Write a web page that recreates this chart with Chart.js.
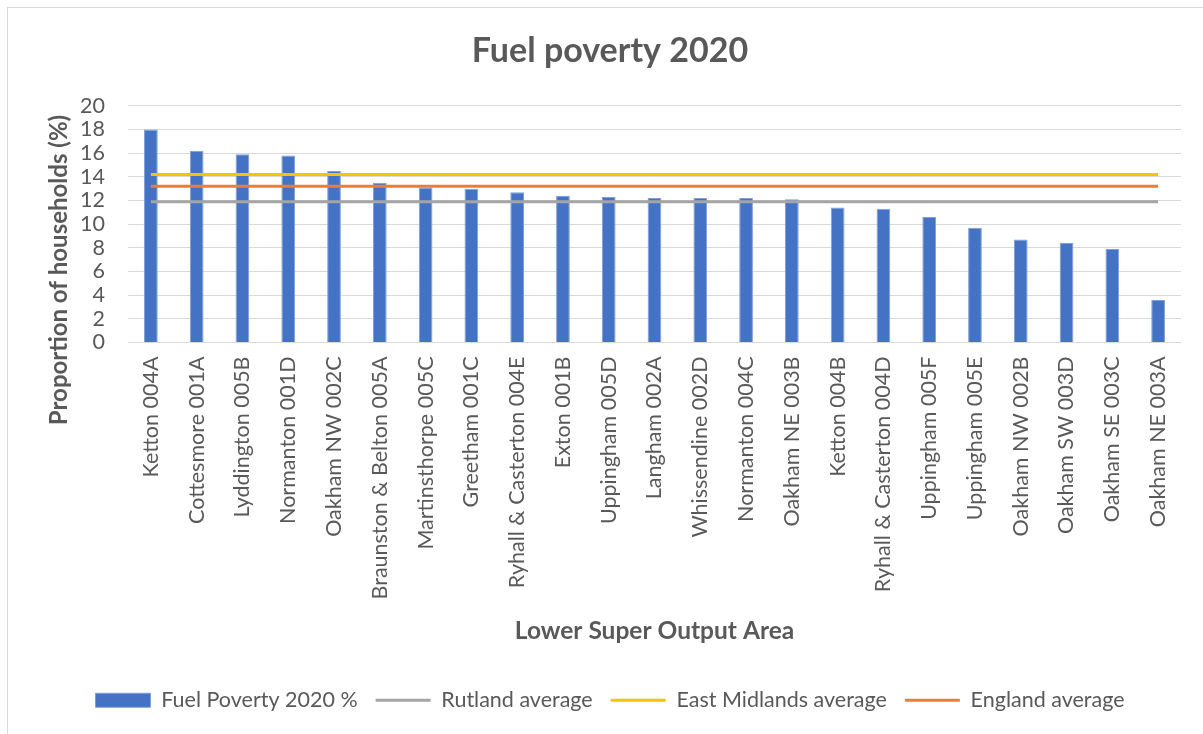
<!DOCTYPE html>
<html>
<head>
<meta charset="utf-8">
<script src="https://cdn.jsdelivr.net/npm/chart.js@4.4.1/dist/chart.umd.min.js"></script>
<style>
  html, body { margin: 0; padding: 0; background: #ffffff; }
  #frame { position: absolute; left: 7px; top: 7px; width: 1300px; height: 900px; border: 1px solid #d9d9d9; box-sizing: border-box; }
  #wrap { position: absolute; left: 0; top: 0; width: 1203px; height: 734px; }
</style>
</head>
<body>
<div id="frame"></div>
<div id="wrap"><canvas id="c" width="1203" height="734"></canvas></div>
<script>
const categories = [
  'Ketton 004A', 'Cottesmore 001A', 'Lyddington 005B', 'Normanton 001D', 'Oakham NW 002C',
  'Braunston & Belton 005A', 'Martinsthorpe 005C', 'Greetham 001C', 'Ryhall & Casterton 004E',
  'Exton 001B', 'Uppingham 005D', 'Langham 002A', 'Whissendine 002D', 'Normanton 004C',
  'Oakham NE 003B', 'Ketton 004B', 'Ryhall & Casterton 004D', 'Uppingham 005F', 'Uppingham 005E',
  'Oakham NW 002B', 'Oakham SW 003D', 'Oakham SE 003C', 'Oakham NE 003A'
];
const fuelPoverty2020 = [18.0, 16.2, 15.9, 15.8, 14.5, 13.5, 13.1, 13.0, 12.7, 12.4, 12.3, 12.2, 12.2, 12.2, 12.1, 11.4, 11.3, 10.6, 9.7, 8.7, 8.4, 7.9, 3.6];
const rutlandAverage = [11.9, 11.9, 11.9, 11.9, 11.9, 11.9, 11.9, 11.9, 11.9, 11.9, 11.9, 11.9, 11.9, 11.9, 11.9, 11.9, 11.9, 11.9, 11.9, 11.9, 11.9, 11.9, 11.9];
const eastMidlandsAverage = [14.2, 14.2, 14.2, 14.2, 14.2, 14.2, 14.2, 14.2, 14.2, 14.2, 14.2, 14.2, 14.2, 14.2, 14.2, 14.2, 14.2, 14.2, 14.2, 14.2, 14.2, 14.2, 14.2];
const englandAverage = [13.2, 13.2, 13.2, 13.2, 13.2, 13.2, 13.2, 13.2, 13.2, 13.2, 13.2, 13.2, 13.2, 13.2, 13.2, 13.2, 13.2, 13.2, 13.2, 13.2, 13.2, 13.2, 13.2];
const yTicks = [0, 2, 4, 6, 8, 10, 12, 14, 16, 18, 20];
const yAxisTitle = 'Proportion of households (%)';

const FONT = 'Lato';
const TEXT = '#595959';

const yTitlePlugin = {
  id: 'yTitle',
  afterDraw(chart) {
    const ctx = chart.ctx;
    ctx.save();
    ctx.translate(59, 270);
    ctx.rotate(-Math.PI / 2);
    ctx.font = 'bold 24px ' + FONT;
    ctx.fillStyle = TEXT;
    ctx.textAlign = 'center';
    ctx.textBaseline = 'middle';
    ctx.fillText(yAxisTitle, 0, 0);
    ctx.restore();
  }
};

new Chart(document.getElementById('c'), {
  data: {
    labels: categories,
    datasets: [
      { type: 'bar', label: 'Fuel Poverty 2020 %', data: fuelPoverty2020, backgroundColor: '#4472C4',
        borderColor: '#7f9fd8', borderWidth: 1, barPercentage: 0.3, categoryPercentage: 1.0,
        pointStyle: 'rect', order: 4 },
      { type: 'line', label: 'Rutland average', data: rutlandAverage, borderColor: '#A5A5A5', backgroundColor: '#A5A5A5',
        borderWidth: 3, pointRadius: 0, pointHoverRadius: 0, pointStyle: 'line', order: 3 },
      { type: 'line', label: 'East Midlands average', data: eastMidlandsAverage, borderColor: '#FFC000', backgroundColor: '#FFC000',
        borderWidth: 3, pointRadius: 0, pointHoverRadius: 0, pointStyle: 'line', order: 2 },
      { type: 'line', label: 'England average', data: englandAverage, borderColor: '#ED7D31', backgroundColor: '#ED7D31',
        borderWidth: 3, pointRadius: 0, pointHoverRadius: 0, pointStyle: 'line', order: 1 }
    ]
  },
  plugins: [yTitlePlugin],
  options: {
    responsive: false,
    animation: false,
    layout: { padding: { left: 39, right: 22, top: 8, bottom: 13 } },
    plugins: {
      title: { display: true, text: 'Fuel poverty 2020', color: TEXT,
        font: { family: FONT, size: 34, weight: 'bold' }, padding: { top: 23, bottom: 34 } },
      legend: { position: 'bottom',
        labels: { color: TEXT, font: { family: FONT, size: 21.5 }, usePointStyle: true, pointStyleWidth: 55,
          boxHeight: 14, padding: 18, sort: (a, b) => a.datasetIndex - b.datasetIndex } },
      tooltip: { enabled: false }
    },
    scales: {
      x: {
        offset: true,
        grid: { display: false, drawTicks: false },
        border: { display: false },
        ticks: { color: TEXT, font: { family: FONT, size: 21.5 }, minRotation: 90, maxRotation: 90, padding: 14, autoSkip: false },
        title: { display: true, text: 'Lower Super Output Area', color: TEXT,
          font: { family: FONT, size: 24.5, weight: 'bold' }, padding: { top: 0, bottom: 26 } },
        afterFit: (s) => { s.height = 329; }
      },
      y: {
        min: 0, max: 20,
        grid: { color: '#d9d9d9', lineWidth: 1, drawTicks: false },
        border: { display: false },
        afterBuildTicks: (s) => { s.ticks = yTicks.map(v => ({ value: v })); },
        ticks: { color: TEXT, font: { family: FONT, size: 21.5 }, padding: 23, autoSkip: false },
        title: { display: false },
        afterFit: (s) => { s.width = 89; }
      }
    }
  }
});
</script>
</body>
</html>
